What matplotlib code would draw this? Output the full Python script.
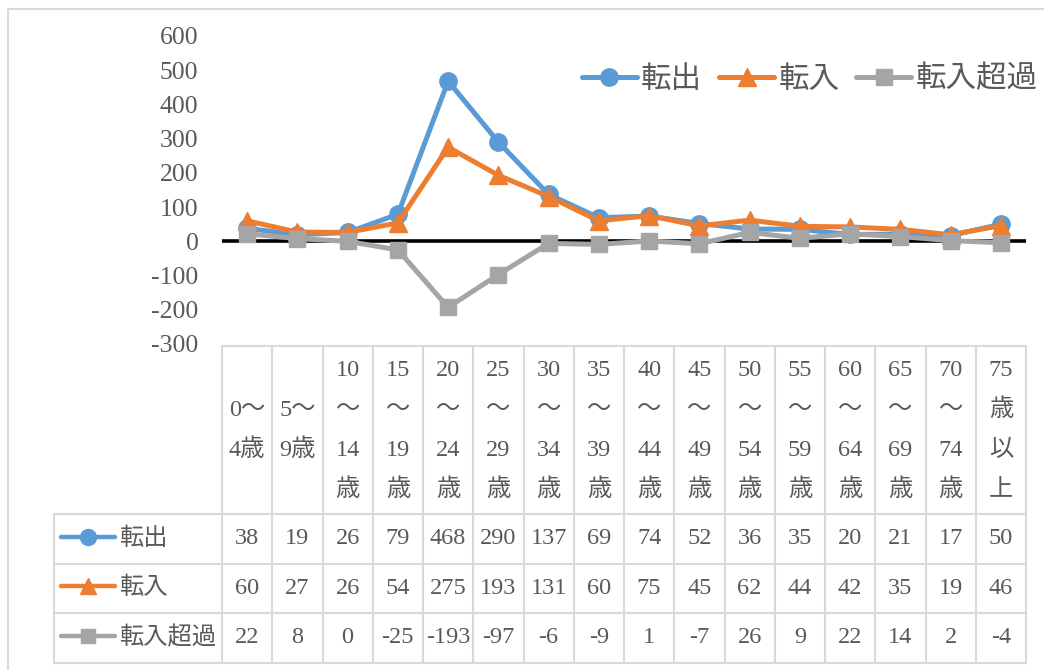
import matplotlib.pyplot as plt
from matplotlib.lines import Line2D

plt.rcParams['axes.unicode_minus'] = False
FONT = ['Liberation Serif', 'Noto Sans CJK JP']
TXT = '#595959'
GRID = '#D9D9D9'

# age groups (table header)
age_labels = [
    "0～\n4歳", "5～\n9歳", "10\n～\n14\n歳", "15\n～\n19\n歳", "20\n～\n24\n歳",
    "25\n～\n29\n歳", "30\n～\n34\n歳", "35\n～\n39\n歳", "40\n～\n44\n歳",
    "45\n～\n49\n歳", "50\n～\n54\n歳", "55\n～\n59\n歳", "60\n～\n64\n歳",
    "65\n～\n69\n歳", "70\n～\n74\n歳", "75\n歳\n以\n上",
]
tenshutsu = [38, 19, 26, 79, 468, 290, 137, 69, 74, 52, 36, 35, 20, 21, 17, 50]
tennyu = [60, 27, 26, 54, 275, 193, 131, 60, 75, 45, 62, 44, 42, 35, 19, 46]
chouka = [22, 8, 0, -25, -193, -97, -6, -9, 1, -7, 26, 9, 22, 14, 2, -4]

series_names = ['転出', '転入', '転入超過']
series_vals = [tenshutsu, tennyu, chouka]
colors = ['#5B9BD5', '#ED7D31', '#A5A5A5']
markers = ['o', '^', 's']
msizes = [12.5, 12.5, 11.5]

y_ticks = [600, 500, 400, 300, 200, 100, 0, -100, -200, -300]

W, H = 1044, 670
fig = plt.figure(figsize=(W / 100, H / 100), dpi=100)

# pixel geometry
left, right = 222, 1026
top, bottom = 36, 344
ncol = len(age_labels)
colw = (right - left) / ncol

ax = fig.add_axes([left / W, 1 - bottom / H, (right - left) / W, (bottom - top) / H])
x = list(range(ncol))
ax.axhline(0, color='black', lw=2.6, zorder=1)
for name, vals, c, m, ms in zip(series_names, series_vals, colors, markers, msizes):
    ax.plot(x, vals, color=c, lw=3.6, marker=m, markersize=ms, label=name, zorder=3,
            solid_capstyle='round', solid_joinstyle='round')
ax.set_xlim(-0.5, ncol - 0.5)
ax.set_ylim(-300, 600)
ax.set_xticks([])
ax.set_yticks(y_ticks)
ax.set_yticklabels([str(v) for v in y_ticks])
ax.tick_params(axis='y', length=0, pad=17, labelsize=18.5, labelcolor=TXT)
for lab in ax.get_yticklabels():
    lab.set_family(FONT)
for s in ax.spines.values():
    s.set_visible(False)
ax.patch.set_alpha(0)

leg = ax.legend(loc='center right', bbox_to_anchor=(1038 / W, 1 - 80 / H),
                bbox_transform=fig.transFigure, ncol=3, frameon=False,
                prop={'family': FONT, 'size': 22}, handlelength=1.8,
                handletextpad=0.15, columnspacing=0.55, borderaxespad=0, borderpad=0)
for t in leg.get_texts():
    t.set_color(TXT)

# overlay in pixel coordinates for frame and data table
ov = fig.add_axes([0, 0, 1, 1], zorder=-1)
ov.set_xlim(0, W)
ov.set_ylim(H, 0)
ov.axis('off')

# chart frame
ov.plot([8, 8, W + 5], [H + 5, 9, 9], color=GRID, lw=1.5)

hdr_top, hdr_bot = 346, 514
row_h = 49.5
rows_bot = hdr_bot + row_h * 3
tab_left = 54

# grid
ov.plot([left, right], [hdr_top, hdr_top], color=GRID, lw=1.5)
for i in range(ncol + 1):
    xx = left + i * colw
    ov.plot([xx, xx], [hdr_top, rows_bot], color=GRID, lw=1.5)
for r in range(4):
    yy = hdr_bot + r * row_h
    ov.plot([tab_left, right], [yy, yy], color=GRID, lw=1.5)
ov.plot([tab_left, tab_left], [hdr_bot, rows_bot], color=GRID, lw=1.5)

# header text
for i, lab in enumerate(age_labels):
    cx = left + (i + 0.5) * colw
    lines = lab.split('\n')
    n = len(lines)
    for k, ln in enumerate(lines):
        cy = 430 + (k - (n - 1) / 2) * 40
        ov.text(cx, cy, ln, ha='center', va='center', fontsize=17.5,
                family=FONT, color=TXT)

# data rows
for r, (name, vals, c, m, ms) in enumerate(zip(series_names, series_vals, colors, markers, msizes)):
    cy = hdr_bot + (r + 0.5) * row_h
    ov.add_line(Line2D([61, 115], [cy - 2, cy - 2], color=c, lw=3.2, solid_capstyle='round'))
    ov.add_line(Line2D([88], [cy - 2], color=c, marker=m, markersize=ms - 1, lw=0))
    ov.text(119, cy, name, ha='left', va='center', fontsize=17.5, family=FONT, color=TXT)
    for i, v in enumerate(vals):
        cx = left + (i + 0.5) * colw
        ov.text(cx, cy, str(v), ha='center', va='center', fontsize=17.5,
                family=FONT, color=TXT)

fig.savefig('out.png', dpi=100)
